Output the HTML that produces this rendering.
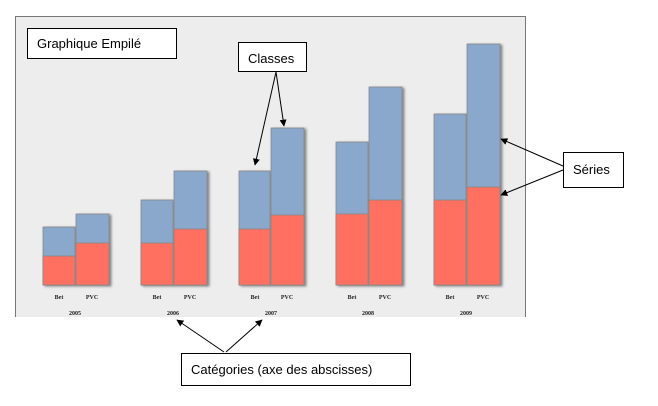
<!DOCTYPE html>
<html><head><meta charset="utf-8"><style>
body{margin:0;background:#fff;width:658px;height:401px;overflow:hidden}
</style></head><body>
<svg width="658" height="401" xmlns="http://www.w3.org/2000/svg" font-family="Liberation Sans, sans-serif">
<defs>
<marker id="a" viewBox="0 0 10 10" refX="9" refY="5" markerWidth="7" markerHeight="7" orient="auto"><path d="M0,0L10,5L0,10z" fill="#000"/></marker>
<filter id="s" x="-20%" y="-5%" width="150%" height="115%"><feDropShadow dx="2" dy="1" stdDeviation="1.2" flood-color="#000" flood-opacity="0.45"/></filter>
</defs>
<rect x="15.5" y="16.5" width="510" height="310" fill="#ededed" stroke="#777"/>
<rect x="0" y="317" width="658" height="84" fill="#fff"/>
<g filter="url(#s)" stroke="#888" stroke-width="0.8">
<rect x="43" y="227" width="32" height="58" fill="#8aa8cc"/><rect x="43" y="256" width="32" height="29" fill="#ff6f61"/>
<rect x="76" y="214" width="33" height="71" fill="#8aa8cc"/><rect x="76" y="243" width="33" height="42" fill="#ff6f61"/>
<rect x="141" y="200" width="32" height="85" fill="#8aa8cc"/><rect x="141" y="243" width="32" height="42" fill="#ff6f61"/>
<rect x="174" y="171" width="33" height="114" fill="#8aa8cc"/><rect x="174" y="229" width="33" height="56" fill="#ff6f61"/>
<rect x="239" y="171" width="31" height="114" fill="#8aa8cc"/><rect x="239" y="229" width="31" height="56" fill="#ff6f61"/>
<rect x="271" y="128" width="33" height="157" fill="#8aa8cc"/><rect x="271" y="215" width="33" height="70" fill="#ff6f61"/>
<rect x="336" y="142" width="32" height="143" fill="#8aa8cc"/><rect x="336" y="214" width="32" height="71" fill="#ff6f61"/>
<rect x="369" y="87" width="33" height="198" fill="#8aa8cc"/><rect x="369" y="200" width="33" height="85" fill="#ff6f61"/>
<rect x="434" y="114" width="32" height="171" fill="#8aa8cc"/><rect x="434" y="200" width="32" height="85" fill="#ff6f61"/>
<rect x="467" y="44" width="33" height="241" fill="#8aa8cc"/><rect x="467" y="187" width="33" height="98" fill="#ff6f61"/>
</g>
<g font-family="Liberation Serif, serif" font-size="6" font-weight="bold" fill="#222" text-anchor="middle">
<text x="59" y="299">Bet</text><text x="92" y="299">PVC</text><text x="75" y="315">2005</text>
<text x="157" y="299">Bet</text><text x="190" y="299">PVC</text><text x="173" y="315">2006</text>
<text x="255" y="299">Bet</text><text x="287" y="299">PVC</text><text x="271" y="315">2007</text>
<text x="352" y="299">Bet</text><text x="385" y="299">PVC</text><text x="368" y="315">2008</text>
<text x="450" y="299">Bet</text><text x="483" y="299">PVC</text><text x="466" y="315">2009</text>
</g>
<g stroke="#000" stroke-width="1" fill="none" marker-end="url(#a)">
<line x1="276" y1="72" x2="255" y2="165"/><line x1="276" y1="72" x2="284" y2="126"/>
<line x1="563" y1="166" x2="501" y2="139"/><line x1="563" y1="170" x2="501" y2="195"/>
<line x1="224" y1="352" x2="177" y2="320"/><line x1="226" y1="352" x2="262" y2="320"/>
</g>
<g fill="#fff" stroke="#000"><rect x="27.5" y="28.5" width="149" height="30"/><rect x="238.5" y="42.5" width="68" height="29"/><rect x="563.5" y="152.5" width="60" height="35"/><rect x="181.5" y="353.5" width="229" height="32"/></g>
<g font-size="13" fill="#000"><text x="37" y="48">Graphique Empilé</text><text x="248" y="63">Classes</text><text x="573" y="174">Séries</text><text x="191" y="374">Catégories (axe des abscisses)</text></g>
</svg>
</body></html>
